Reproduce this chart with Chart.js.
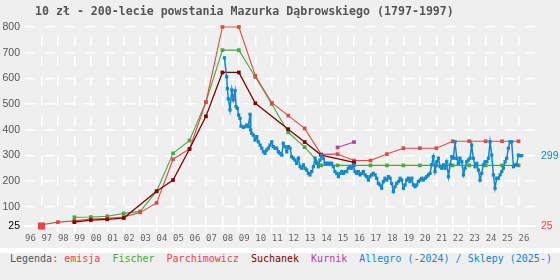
<!DOCTYPE html>
<html><head><meta charset="utf-8">
<script src="https://cdn.jsdelivr.net/npm/chart.js@4.4.0/dist/chart.umd.min.js"></script>
<style>
html,body{margin:0;padding:0;background:#fff;}
#wrap{position:relative;width:560px;height:248px;background:#efefef;}
#c{display:block;}
#title{position:absolute;left:35px;top:4px;font:bold 11.6px "DejaVu Sans Mono",monospace;color:#555;white-space:pre;}
#legend{margin-top:5px;width:550px;height:27px;line-height:27px;padding-left:10px;background:#efefef;font:10px "DejaVu Sans Mono",monospace;white-space:pre;}
</style></head><body>
<div id="wrap"><canvas id="c" width="560" height="248"></canvas><div id="title">10 zł - 200-lecie powstania Mazurka Dąbrowskiego (1797-1997)</div></div>
<div id="legend"><span style="color:#555">Legenda:</span> <span style="color:#ee4444">emisja</span>  <span style="color:#44aa44">Fischer</span>  <span style="color:#dd4a44">Parchimowicz</span>  <span style="color:#800000">Suchanek</span>  <span style="color:#aa44aa">Kurnik</span>  <span style="color:#1188cc">Allegro (-2024) / Sklepy (2025-)</span></div>
<script>
// ---- data ----
const emisjaYears = [1997];
const emisjaValues = [25];

const fischerYears = [1999,2000,2001,2002,2003,2004,2005,2006,2007,2008,2009,2010,2011,2012,2013,2014,2015,2016,2017,2018,2019,2020,2021,2022,2023,2024,2025,2026];
const fischerValues = [59,60,63,74,82,160,308,358,508,710,710,605,500,390,332,261,261,261,261,261,261,261,261,261,261,261,261,261];

const parchYears = [1997,1998,1999,2000,2001,2002,2003,2004,2005,2006,2007,2008,2009,2010,2011,2012,2013,2014,2015,2016,2017,2018,2019,2020,2021,2022,2023,2024,2025,2026];
const parchValues = [30,40,45,52,55,60,78,115,285,325,508,800,800,610,505,455,405,304,305,280,280,305,328,328,328,355,355,355,355,355];

const suchanekYears = [1999,2000,2001,2002,2004,2005,2006,2007,2008,2009,2010,2012,2013,2014,2016];
const suchanekValues = [40,48,51,56,160,204,325,452,623,623,503,402,352,301,273];

const kurnikYears = [2015,2016];
const kurnikValues = [331,352];

const allegroYears = [2008.12,2008.26,2008.30,2008.36,2008.46,2008.57,2008.66,2008.77,2008.83,2008.91,2008.99,2009.07,2009.13,2009.27,2009.37,2009.48,2009.57,2009.68,2009.72,2009.78,2009.88,2009.98,2010.09,2010.18,2010.29,2010.39,2010.49,2010.59,2010.69,2010.79,2010.89,2011.00,2011.09,2011.20,2011.30,2011.40,2011.50,2011.61,2011.70,2011.81,2011.91,2012.01,
2012.11,2012.21,2012.31,2012.41,2012.51,2012.62,2012.72,2012.82,2012.92,2013.02,2013.12,2013.22,2013.32,2013.43,2013.53,2013.63,2013.73,2013.83,2013.93,2014.03,2014.13,2014.24,2014.34,2014.44,2014.54,2014.64,2014.74,2014.84,2014.95,2015.05,2015.15,2015.25,2015.35,2015.45,2015.55,2015.65,2015.76,2015.86,2015.96,2016.06,2016.16,2016.26,2016.36,2016.47,2016.57,2016.67,2016.77,2016.87,2016.97,2017.07,2017.17,2017.28,2017.38,2017.48,2017.58,2017.68,2017.78,2017.88,2017.99,2018.09,2018.19,2018.29,2018.39,2018.49,2018.59,2018.70,2018.80,2018.90,2019.00,2019.10,2019.20,2019.30,2019.40,2019.51,2019.61,2019.71,2019.81,2019.91,2020.01,2020.11,2020.21,2020.32,2020.42,2020.52,2020.62,2020.72,2020.82,2020.92,2021.03,2021.13,2021.23,2021.33,2021.43,2021.53,2021.63,2021.74,2021.84,2021.94,2022.04,2022.14,2022.24,2022.34,2022.44,2022.55,2022.65,2022.75,2022.85,2022.95,2023.05,2023.15,2023.25,2023.36,2023.46,2023.56,2023.66,2023.76,2023.86,2023.96,2024.07,2024.17,2024.27,2024.37,2024.47,2024.57,2024.67,2024.77,2024.88,2024.98,2025.08,2025.18,2025.28,2025.38,2025.48,2025.58,2025.69,2025.79,2025.89,2025.99,2026.09,2026.19];
const allegroValues = [680,606,560,520,477,555,516,552,490,483,457,444,414,409,412,418,412,460,399,386,379,360,373,353,340,328,314,308,321,328,340,353,334,328,328,314,308,301,347,334,314,334,
328,295,289,282,269,289,256,250,263,250,243,230,224,237,256,289,269,256,282,301,289,269,269,269,269,269,256,237,230,217,230,237,230,237,237,250,256,250,263,237,230,237,224,230,237,224,217,204,217,224,230,224,211,191,185,172,198,211,204,217,211,191,159,178,191,198,211,204,172,185,204,211,198,211,185,178,185,198,204,211,204,211,217,224,230,263,295,237,275,289,256,250,263,250,275,217,263,295,289,353,289,269,289,275,224,250,275,282,289,340,289,256,269,243,204,230,263,275,275,289,353,301,224,172,211,211,224,237,250,275,289,328,353,353,256,263,263,301,299,299];

const yTickValues = [25,100,200,300,400,500,600,700,800];
const xLabelFirst = 1996, xLabelLast = 2026, xMax = 2027;

// ---- colours ----
const COL = {emisja:'#ee4444', fischer:'#44aa44', parch:'#dd4a44', suchanek:'#800000', kurnik:'#aa44aa', allegro:'#1188cc'};

const rightLabelValues = [emisjaValues[emisjaValues.length-1], allegroValues[allegroValues.length-1]];
const rightLabelColors = [COL.emisja, COL.allegro];

const toXY = (xs, ys) => xs.map((x, i) => ({x: x, y: ys[i]}));
const series = (label, xs, ys, color, extra) => Object.assign({
  label: label, data: toXY(xs, ys), borderColor: color, backgroundColor: color,
  borderWidth: 1.1, pointStyle: 'rect', pointRadius: 2.6, pointBorderWidth: 0, pointHoverRadius: 0,
  tension: 0, yAxisID: 'y', clip: false
}, extra || {});

new Chart(document.getElementById('c'), {
  type: 'line',
  data: { datasets: [
    series('emisja', emisjaYears, emisjaValues, COL.emisja, {showLine:false, pointRadius:5}),
    series('Allegro (-2024) / Sklepy (2025-)', allegroYears, allegroValues, COL.allegro, {borderWidth:1.5, pointRadius:2.3}),
    series('Suchanek', suchanekYears, suchanekValues, COL.suchanek, {borderWidth:1.3}),
    series('Kurnik', kurnikYears, kurnikValues, COL.kurnik),
    series('Parchimowicz', parchYears, parchValues, COL.parch),
    series('Fischer', fischerYears, fischerValues, COL.fischer)
  ]},
  options: {
    responsive: false, animation: false, events: [],
    layout: {padding: {top: 27, left: 0, right: 0, bottom: 0}},
    plugins: {legend: {display: false}, tooltip: {enabled: false}, title: {display: false}},
    scales: {
      x: {
        type: 'linear', min: xLabelFirst, max: xMax,
        afterFit(s) { s.height = 22; },
        ticks: {
          stepSize: 1, autoSkip: false, maxRotation: 0, align: 'start', padding: 1,
          color: '#666', font: {family: '"DejaVu Sans Mono", monospace', size: 9},
          callback: v => (v > xLabelLast ? '' : String(v % 100).padStart(2, '0'))
        },
        grid: {
          color: c => (c.tick && (c.tick.value === xLabelFirst || c.tick.value === xMax)) ? 'rgba(0,0,0,0)' : '#ffffff',
          tickColor: c => (c.tick && (c.tick.value === xLabelFirst || c.tick.value === xMax)) ? 'rgba(0,0,0,0)' : '#ffffff',
          lineWidth: 1.5, tickWidth: 1.5, tickLength: 6, drawTicks: true
        },
        border: {display: true, color: '#ffffff', width: 2, dash: [10, 10], dashOffset: 11}
      },
      y: {
        position: 'left', min: 25, max: 800,
        afterFit(s) { s.width = 25; },
        afterBuildTicks(s) { s.ticks = yTickValues.map(v => ({value: v})); },
        ticks: {
          autoSkip: false, padding: 5,
          color: c => (c.tick && c.tick.value === 25 ? '#000' : '#555'),
          font: {family: '"Liberation Sans", Arial, sans-serif', size: 10.5},
          callback: v => String(v)
        },
        grid: {color: '#ffffff', lineWidth: 1.5, drawTicks: false},
        border: {display: false, dash: [10, 10], dashOffset: 0}
      },
      y2: {
        position: 'right', min: 25, max: 800,
        afterFit(s) { s.width = 25; },
        afterBuildTicks(s) { s.ticks = rightLabelValues.map(v => ({value: v})); },
        ticks: {
          autoSkip: false, padding: 6,
          color: c => rightLabelColors[c.index],
          font: {family: '"Liberation Sans", Arial, sans-serif', size: 10.5},
          callback: v => String(v)
        },
        grid: {display: false, drawTicks: false},
        border: {display: false}
      }
    }
  }
});
</script>
</body></html>
